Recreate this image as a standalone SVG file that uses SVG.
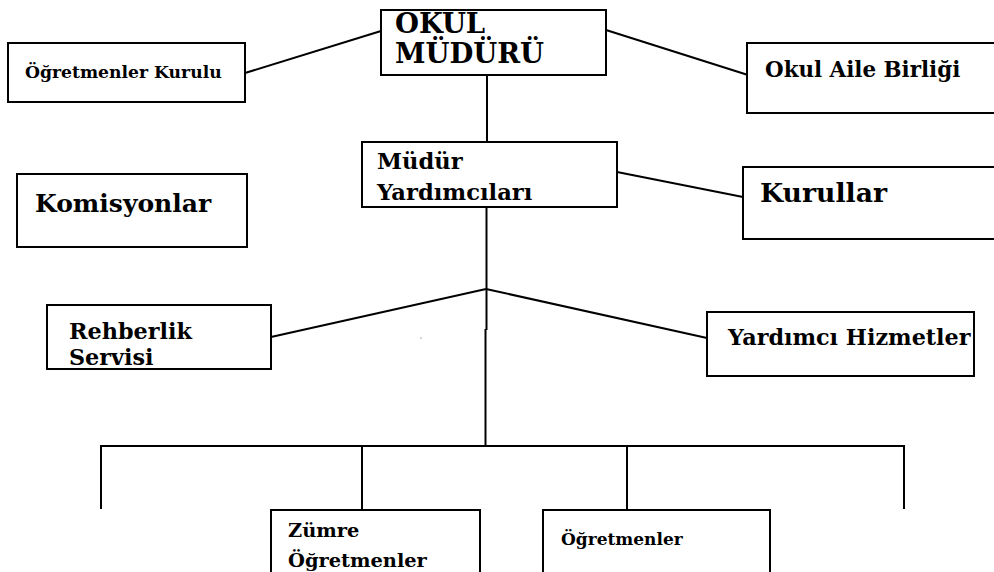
<svg xmlns="http://www.w3.org/2000/svg" width="994" height="572" viewBox="0 0 994 572">
<style>
.box{fill:#fff;stroke:#000;stroke-width:2}
.ln{stroke:#000;stroke-width:2;fill:none}
text{font-family:"DejaVu Serif","Liberation Serif",serif;font-weight:bold;fill:#000}
</style>
<rect width="994" height="572" fill="#fff"/>
<g id="connectors">
<line class="ln" x1="245" y1="73" x2="381" y2="31"/>
<line class="ln" x1="606" y1="30" x2="748" y2="75"/>
<line class="ln" x1="487" y1="75" x2="487" y2="142"/>
<line class="ln" x1="617" y1="172" x2="743" y2="197"/>
<line class="ln" x1="486.5" y1="207" x2="486.5" y2="330"/>
<line class="ln" x1="485.5" y1="329" x2="485.5" y2="446"/>
<line class="ln" x1="271" y1="337" x2="486" y2="289"/>
<line class="ln" x1="486" y1="289" x2="707" y2="338"/>
<line class="ln" x1="101" y1="446" x2="904" y2="446"/>
<line class="ln" x1="101" y1="445" x2="101" y2="509"/>
<line class="ln" x1="362" y1="446" x2="362" y2="510"/>
<line class="ln" x1="627" y1="446" x2="627" y2="510"/>
<line class="ln" x1="904" y1="445" x2="904" y2="509"/>
<rect x="420.5" y="337.5" width="1" height="1" fill="#555"/>
</g>
<g id="okul-muduru">
<rect class="box" x="381" y="10" width="225" height="65"/>
<text x="395" y="33" font-size="27.5">OKUL</text>
<text x="395" y="63" font-size="27.5">MÜDÜRÜ</text>
</g>
<g id="ogretmenler-kurulu">
<rect class="box" x="8" y="43" width="237" height="59"/>
<text x="25" y="78" font-size="17.2">Öğretmenler Kurulu</text>
</g>
<g id="okul-aile-birligi">
<rect class="box" x="747" y="43" width="250" height="70"/>
<text x="765" y="77" font-size="21.4">Okul Aile Birliği</text>
</g>
<g id="mudur-yardimcilari">
<rect class="box" x="362" y="142" width="255" height="65"/>
<text x="377" y="169" font-size="22.6">Müdür</text>
<text x="377" y="200" font-size="22.6">Yardımcıları</text>
</g>
<g id="komisyonlar">
<rect class="box" x="17" y="174" width="230" height="73"/>
<text x="35" y="212" font-size="25">Komisyonlar</text>
</g>
<g id="kurullar">
<rect class="box" x="743" y="167" width="254" height="72"/>
<text x="760" y="202" font-size="26.7">Kurullar</text>
</g>
<g id="rehberlik-servisi">
<rect class="box" x="47" y="305" width="224" height="64"/>
<text x="69" y="339" font-size="22.3">Rehberlik</text>
<text x="69" y="365" font-size="22.3">Servisi</text>
</g>
<g id="yardimci-hizmetler">
<rect class="box" x="707" y="312" width="267" height="64"/>
<text x="728" y="345" font-size="22.3">Yardımcı Hizmetler</text>
</g>
<g id="zumre-ogretmenler">
<rect class="box" x="271" y="510" width="209" height="70"/>
<text x="288" y="537" font-size="19.4">Zümre</text>
<text x="288" y="567" font-size="19.4">Öğretmenler</text>
</g>
<g id="ogretmenler">
<rect class="box" x="543" y="510" width="227" height="70"/>
<text x="561" y="545" font-size="17">Öğretmenler</text>
</g>
</svg>
